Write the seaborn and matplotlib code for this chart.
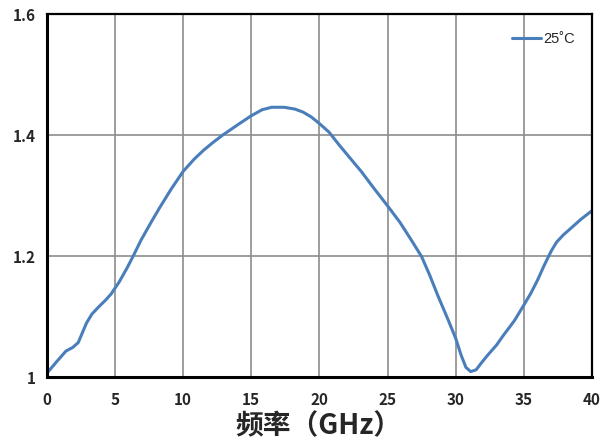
import numpy as np
import pandas as pd
import matplotlib
matplotlib.use('Agg')
import matplotlib.pyplot as plt
from matplotlib.ticker import MultipleLocator, FixedLocator, FixedFormatter
import seaborn as sns

# values
freq_ghz = [0.1, 0.7, 1.4, 1.9, 2.3, 2.6, 2.9, 3.3, 3.8, 4.3, 4.7, 5.3, 5.9,
            6.4, 6.9, 7.6, 8.25, 9.1, 10.0, 10.8, 11.5, 12.2, 12.9, 14.0,
            15.0, 15.8, 16.5, 17.4, 18.2, 18.8, 19.4, 20.0, 20.7, 21.4, 22.1,
            23.1, 24.0, 25.0, 25.9, 26.7, 27.5, 28.1, 28.7, 29.4, 30.0, 30.4,
            30.75, 31.1, 31.5, 31.8, 32.3, 33.0, 33.5, 34.3, 35.0, 35.5, 36.0,
            36.5, 37.0, 37.4, 37.9, 38.5, 39.2, 40.0]
vswr = [1.009, 1.025, 1.043, 1.049, 1.057, 1.073, 1.089, 1.104, 1.116, 1.127,
        1.137, 1.157, 1.181, 1.203, 1.226, 1.254, 1.279, 1.310, 1.340, 1.360,
        1.375, 1.388, 1.400, 1.417, 1.432, 1.442, 1.446, 1.446, 1.443, 1.438,
        1.430, 1.419, 1.405, 1.385, 1.366, 1.339, 1.312, 1.283, 1.256, 1.228,
        1.199, 1.168, 1.134, 1.097, 1.064, 1.036, 1.016, 1.009, 1.012, 1.021,
        1.035, 1.053, 1.069, 1.093, 1.119, 1.138, 1.160, 1.185, 1.208, 1.223,
        1.235, 1.247, 1.261, 1.275]
series_label = '25˚C'

x_ticks = [0, 5, 10, 15, 20, 25, 30, 35, 40]
y_ticks = [1.0, 1.2, 1.4, 1.6]
y_tick_labels = ['1', '1.2', '1.4', '1.6']
x_title = '频率（GHz）'

sns.set_style('white')
plt.rcParams['font.family'] = ['Noto Sans CJK SC', 'DejaVu Sans']

df = pd.DataFrame({'freq': freq_ghz, 'vswr': vswr, 'temp': series_label})

fig = plt.figure(figsize=(6.01, 4.41), dpi=100)
ax = fig.add_axes([0.078, 0.145, 0.907, 0.823])

sns.lineplot(data=df, x='freq', y='vswr', hue='temp', palette=['#4a7ebb'],
             linewidth=2.2, sort=False, estimator=None, ax=ax)

ax.set_xlim(0, 40)
ax.set_ylim(1.0, 1.6)
ax.xaxis.set_major_locator(FixedLocator(x_ticks))
ax.xaxis.set_minor_locator(MultipleLocator(2.5))
ax.yaxis.set_major_locator(FixedLocator(y_ticks))
ax.yaxis.set_major_formatter(FixedFormatter(y_tick_labels))
ax.yaxis.set_minor_locator(MultipleLocator(0.1))

ax.grid(True, which='major', color='#8c8c8c', linewidth=1.2)
ax.set_axisbelow(True)
ax.tick_params(which='both', direction='in', length=4, width=1.2,
               color='black', labelsize=11)
ax.tick_params(axis='x', pad=11)
ax.tick_params(axis='y', pad=8)
for lbl in ax.get_xticklabels() + ax.get_yticklabels():
    lbl.set_fontweight('bold')

for side in ['left', 'bottom']:
    ax.spines[side].set_linewidth(2.2)
    ax.spines[side].set_color('black')
for side in ['top', 'right']:
    ax.spines[side].set_linewidth(1.6)
    ax.spines[side].set_color('black')

ax.set_xlabel(x_title, fontsize=20, fontweight='bold')
ax.xaxis.set_label_coords(0.499, -0.098)
ax.set_ylabel('')

ax.legend(loc='upper right', frameon=False, handlelength=2.0,
          handletextpad=0.15, borderaxespad=0.8,
          prop={'family': ['Liberation Sans', 'DejaVu Sans'], 'size': 10.5})

fig.savefig('out.png', dpi=100)
